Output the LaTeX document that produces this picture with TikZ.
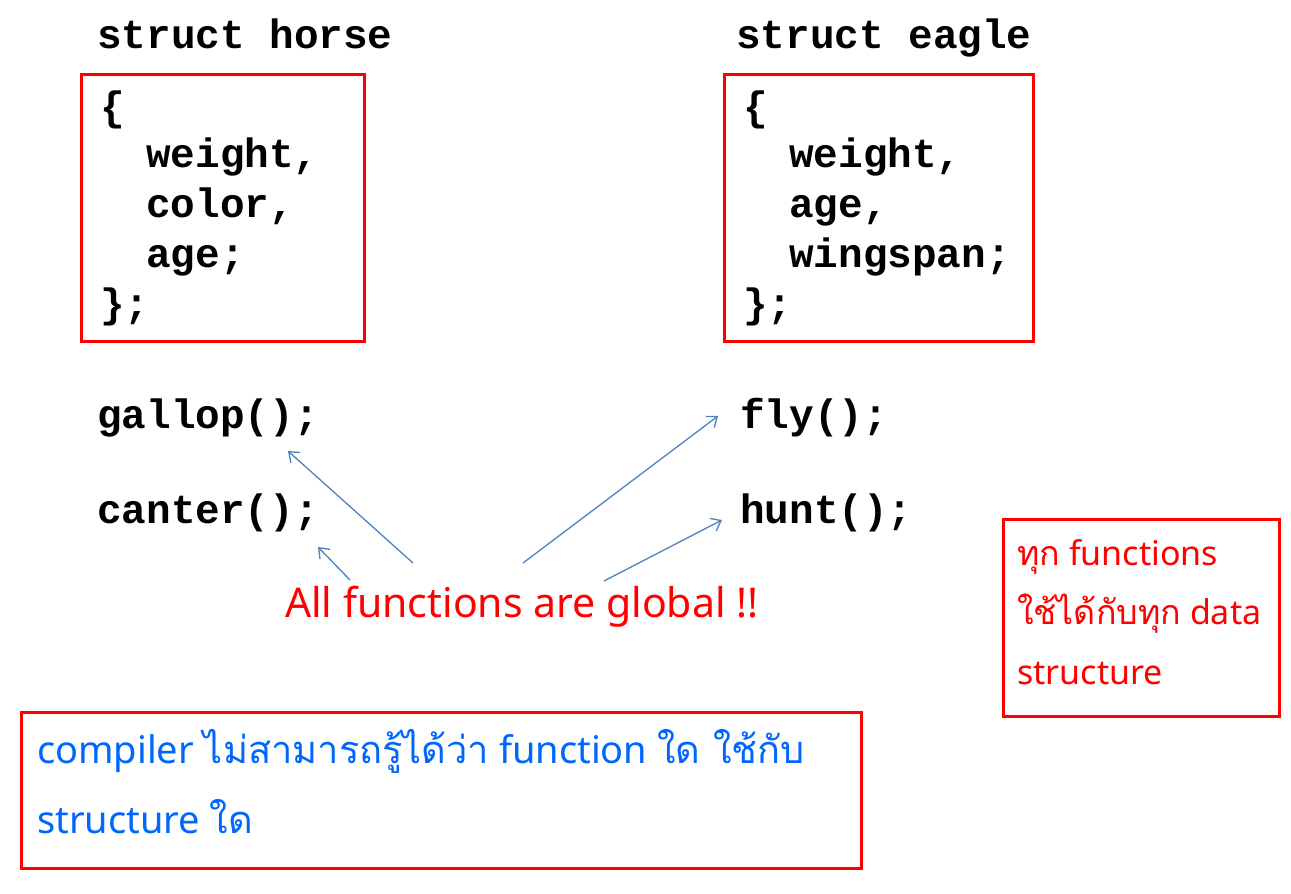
\documentclass[tikz,border=0pt]{standalone}
\usepackage{fontspec}
\usetikzlibrary{arrows.meta}
\setmonofont{Liberation Mono}
\newfontfamily\thaifont[Script=Thai]{Loma}
\newfontfamily\latfont{Noto Sans}
\newcommand\thx[1]{{\thaifont #1}}
\definecolor{boxred}{RGB}{255,0,0}
\definecolor{arrowblue}{RGB}{79,129,189}
\definecolor{noteblue}{RGB}{0,102,255}
\begin{document}
\begin{tikzpicture}[x=1pt,y=-1pt,
  code/.style={inner sep=0pt,anchor=base west,font=\fontsize{41}{50}\selectfont\ttfamily\bfseries},
  redbox/.style={draw=boxred,line width=3pt,inner sep=0pt,anchor=north west},
  fn/.style={-{Straight Barb[length=9pt,width=14pt]},draw=arrowblue,line width=1.3pt},
  note/.style={inner sep=0pt,anchor=base west}]
\useasboundingbox (0,0) rectangle (1291,894);
% left struct
\node[code] (sh) at (97,48) {struct horse};
\node[redbox,minimum width=283pt,minimum height=267pt] (hbox) at (80,73) {};
\node[code] (h1) at (100,120) {\{};
\node[code] (h2) at (146,167) {weight,};
\node[code] (h3) at (146,217) {color,};
\node[code] (h4) at (146,267) {age;};
\node[code] (h5) at (100,317) {\};};
% right struct
\node[code] (se) at (736,48) {struct eagle};
\node[redbox,minimum width=309pt,minimum height=267pt] (ebox) at (723,73) {};
\node[code] (e1) at (743,120) {\{};
\node[code] (e2) at (789,167) {weight,};
\node[code] (e3) at (789,217) {age,};
\node[code] (e4) at (789,267) {wingspan;};
\node[code] (e5) at (743,317) {\};};
% functions
\node[code] (gallop) at (97,428) {gallop();};
\node[code] (canter) at (97,523) {canter();};
\node[code] (fly) at (740,428) {fly();};
\node[code] (hunt) at (740,523) {hunt();};
% global label
\node[note,text=boxred,font=\fontsize{41}{50}\selectfont\latfont] (glob) at (285,617) {All functions are global !!};
\coordinate (g1) at (413,563);
\coordinate (g2) at (350,580);
\coordinate (g3) at (523,563);
\coordinate (g4) at (604,581);
\coordinate (tg) at (288,451);
\coordinate (tc) at (318,547);
\coordinate (tf) at (718,416);
\coordinate (th) at (722,520);
\draw[fn] (g1) -- (tg);
\draw[fn] (g2) -- (tc);
\draw[fn] (g3) -- (tf);
\draw[fn] (g4) -- (th);
% right note
\node[redbox,minimum width=276pt,minimum height=197pt] (nbox) at (1002,518) {};
\node[note,text=boxred,font=\fontsize{34}{40}\selectfont\latfont] (n1) at (1017,565) {\thx{ทุก} functions};
\node[note,text=boxred,font=\fontsize{34}{40}\selectfont\latfont] (n2) at (1017,624) {\thx{ใช้ได้กับทุก} data};
\node[note,text=boxred,font=\fontsize{34}{40}\selectfont\latfont] (n3) at (1017,684) {structure};
% bottom note
\node[redbox,minimum width=840pt,minimum height=156pt] (bbox) at (20,711) {};
\node[note,text=noteblue,font=\fontsize{38}{48}\selectfont\latfont] (b1) at (37,763) {compiler \thx{ไม่สามารถรู้ได้ว่า} function \thx{ใด ใช้กับ}};
\node[note,text=noteblue,font=\fontsize{38}{48}\selectfont\latfont] (b2) at (37,833) {structure \thx{ใด}};
\end{tikzpicture}
\end{document}
